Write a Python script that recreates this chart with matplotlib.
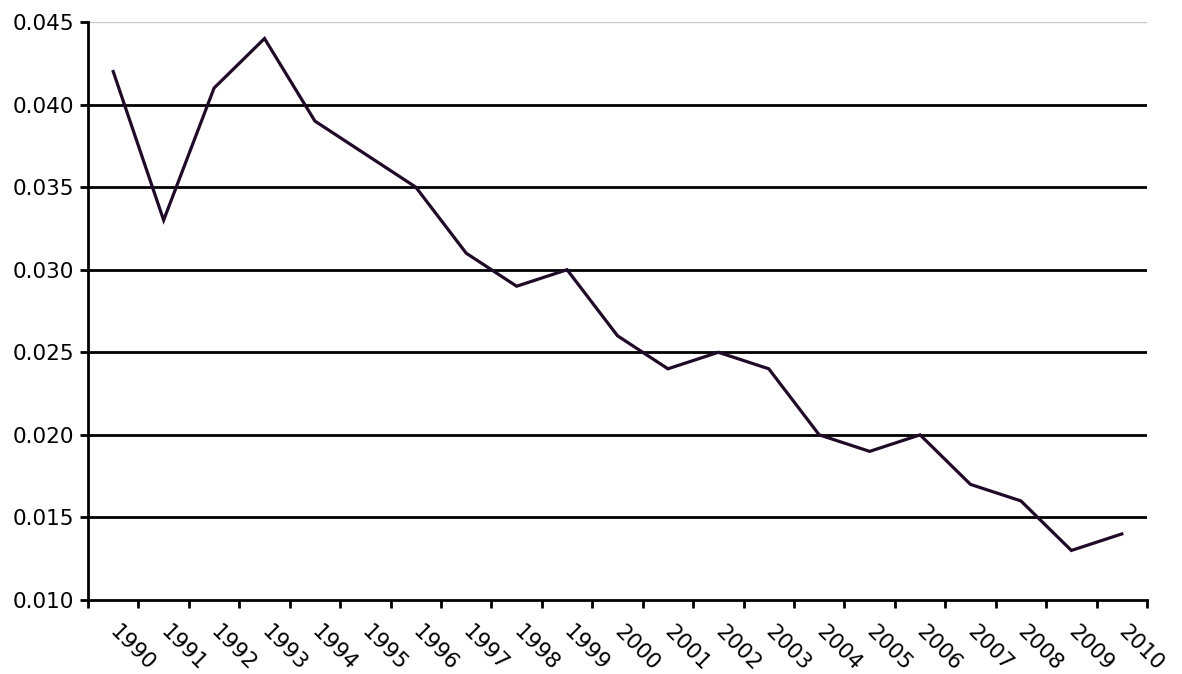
import matplotlib.pyplot as plt
import numpy as np
from matplotlib.ticker import FixedLocator, FixedFormatter

# datos
anios = [str(a) for a in range(1990, 2011)]
valores = [0.042, 0.033, 0.041, 0.044, 0.039, 0.037, 0.035, 0.031, 0.029, 0.030,
           0.026, 0.024, 0.025, 0.024, 0.020, 0.019, 0.020, 0.017, 0.016, 0.013, 0.014]
yticks = [0.010, 0.015, 0.020, 0.025, 0.030, 0.035, 0.040, 0.045]

fig = plt.figure(figsize=(11.82, 6.74), dpi=100)
ax = fig.add_axes([88/1182, 1-600/674, (1147-88)/1182, (600-22)/674])

x = np.arange(len(anios))
ax.set_xlim(-0.5, len(anios) - 0.5)
ax.set_ylim(0.010, 0.045)

# lineas de division
for v in yticks[1:-1]:
    ax.axhline(v, color="black", lw=2, zorder=1)
ax.axhline(yticks[-1], color="#c8c8c8", lw=1, zorder=1)

ax.plot(x, valores, color="#1f0a28", lw=2.3, zorder=3, solid_joinstyle="miter")

# ejes
for s in ["top", "right"]:
    ax.spines[s].set_visible(False)
for s in ["left", "bottom"]:
    ax.spines[s].set_linewidth(2)
    ax.spines[s].set_color("black")

ax.set_yticks(yticks)
ax.set_yticklabels(["{:.3f}".format(v) for v in yticks])
ax.tick_params(axis="y", direction="out", length=6, width=2, labelsize=15.5, pad=4)

ax.xaxis.set_major_locator(FixedLocator(x))
ax.xaxis.set_major_formatter(FixedFormatter(anios))
ax.xaxis.set_minor_locator(FixedLocator(np.arange(-0.5, len(anios), 1.0)))
ax.tick_params(axis="x", which="major", length=0, labelsize=15.5, pad=21)
ax.tick_params(axis="x", which="minor", direction="out", length=6, width=2)
for lbl in ax.get_xticklabels():
    lbl.set_rotation(-45)
    lbl.set_rotation_mode("anchor")
    lbl.set_ha("left")
    lbl.set_va("center")

fig.savefig("out.png", dpi=100)
